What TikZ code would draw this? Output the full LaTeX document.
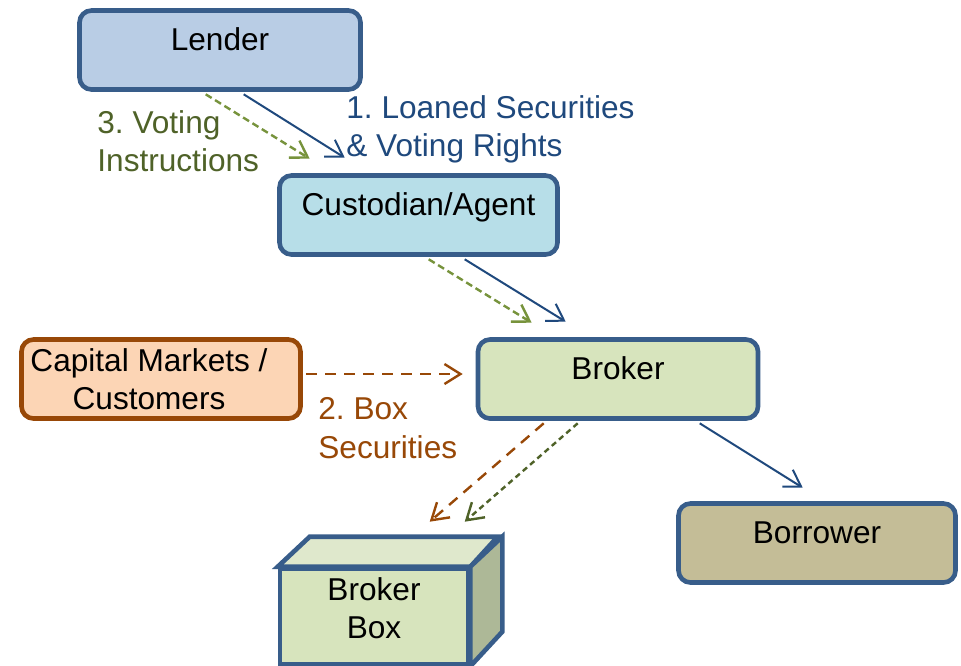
\documentclass[tikz,border=0pt]{standalone}
\usepackage{fontspec}
\setmainfont{Liberation Sans}
\usetikzlibrary{arrows.meta,calc}
\definecolor{boxblue}{HTML}{385D8A}
\definecolor{lenderfill}{HTML}{B9CDE5}
\definecolor{custfill}{HTML}{B7DEE8}
\definecolor{capfill}{HTML}{FCD5B5}
\definecolor{caporange}{HTML}{984807}
\definecolor{brokerfill}{HTML}{D7E4BD}
\definecolor{borrowfill}{HTML}{C4BD97}
\definecolor{boxtop}{HTML}{DFE8CC}
\definecolor{boxside}{HTML}{ADB897}
\definecolor{arrblue}{HTML}{1F497D}
\definecolor{lightgreen}{HTML}{77933C}
\definecolor{votegreen}{HTML}{4F6228}
\frenchspacing
\begin{document}
\begin{tikzpicture}[x=0.5pt,y=-0.5pt,
  every node/.style={font=\fontsize{15.8}{19.3}\selectfont\frenchspacing},
  box/.style={draw=boxblue, line width=2.3pt, rounded corners=6pt, inner sep=0pt,
    minimum width=140pt, minimum height=39.5pt},
  onel/.style={box, text height=0pt, text depth=0pt},
  lbl/.style={anchor=north west, inner sep=0pt, align=left},
  arr/.style={-{Straight Barb[length=8pt,width=10pt]}},
  bluearr/.style={arr, draw=arrblue, line width=1pt},
  greenarr/.style={arr, draw=lightgreen, line width=1.2pt, dash pattern=on 3.5pt off 2pt},
  dgreenarr/.style={arr, draw=votegreen, line width=1.2pt, dash pattern=on 2.8pt off 2pt},
  orangearr/.style={arr, draw=caporange, line width=1.2pt, dash pattern=on 5.5pt off 4pt},
  face/.style={draw=boxblue, line width=2.3pt, line join=miter}
]
\fill[white, use as bounding box] (0,0) rectangle (961,665);
\clip (0,0) rectangle (961,665);

% boxes
\node[onel, fill=lenderfill, minimum width=140.5pt] (lender) at (220,50) {Lender};
\node[onel, fill=custfill, minimum width=139pt] (cust) at (418.5,215) {Custodian/Agent};
\node[box, fill=capfill, draw=caporange, align=center, minimum width=139.5pt] (cap) at (161,379) {Capital Markets /\hspace*{12pt}\\Customers\hspace*{12pt}};
\node[onel, fill=brokerfill, minimum width=140pt] (broker) at (618,379) {Broker};
\node[onel, fill=borrowfill, minimum width=138.5pt] (borrower) at (817,543) {Borrower};

% broker box (3D)
\node[face, fill=brokerfill, minimum width=94pt, minimum height=47.5pt, inner sep=0pt] (bbox) at (374,616.5) {};
\filldraw[face, fill=boxtop] (bbox.north west) -- ++(32,-30) -- ++(188,0) -- (bbox.north east) -- cycle;
\filldraw[face, fill=boxside] (bbox.north east) -- ++(32,-30) -- ++(0,95) -- (bbox.south east) -- cycle;
\node[align=center, inner sep=0pt] (bboxtext) at (374,608) {Broker\\Box};

% labels
\node[lbl, text=arrblue] (l1) at (346,95) {1. Loaned Securities\\\& Voting Rights};
\node[lbl, text=votegreen] (l3) at (97,110) {3. Voting\\Instructions};
\node[lbl, text=caporange] (l2) at (318,397) {2. Box\\Securities};

% connectors
\draw[bluearr] ($(lender.south west)+(166.5,2.5)$) -- ($(cust.north west)+(67.5,-15.5)$);
\draw[greenarr] ($(lender.south west)+(128.5,2.5)$) -- ($(cust.north west)+(32.5,-14.5)$);
\draw[bluearr] ($(cust.south west)+(187.5,2.5)$) -- ($(broker.north west)+(90,-15.5)$);
\draw[greenarr] ($(cust.south west)+(151.5,2.5)$) -- ($(broker.north west)+(56,-14.5)$);
\draw[orangearr] ($(cap.east)+(3.5,-5)$) -- ($(broker.west)+(-13,-5)$);
\draw[orangearr] ($(broker.south west)+(68,2.5)$) -- ($(bbox.north west)+(152,-45)$);
\draw[dgreenarr] ($(broker.south west)+(102,2.5)$) -- ($(bbox.north west)+(187,-45)$);
\draw[bluearr] ($(broker.south west)+(224,2.5)$) -- ($(borrower.north west)+(126.5,-13.5)$);
\end{tikzpicture}
\end{document}
